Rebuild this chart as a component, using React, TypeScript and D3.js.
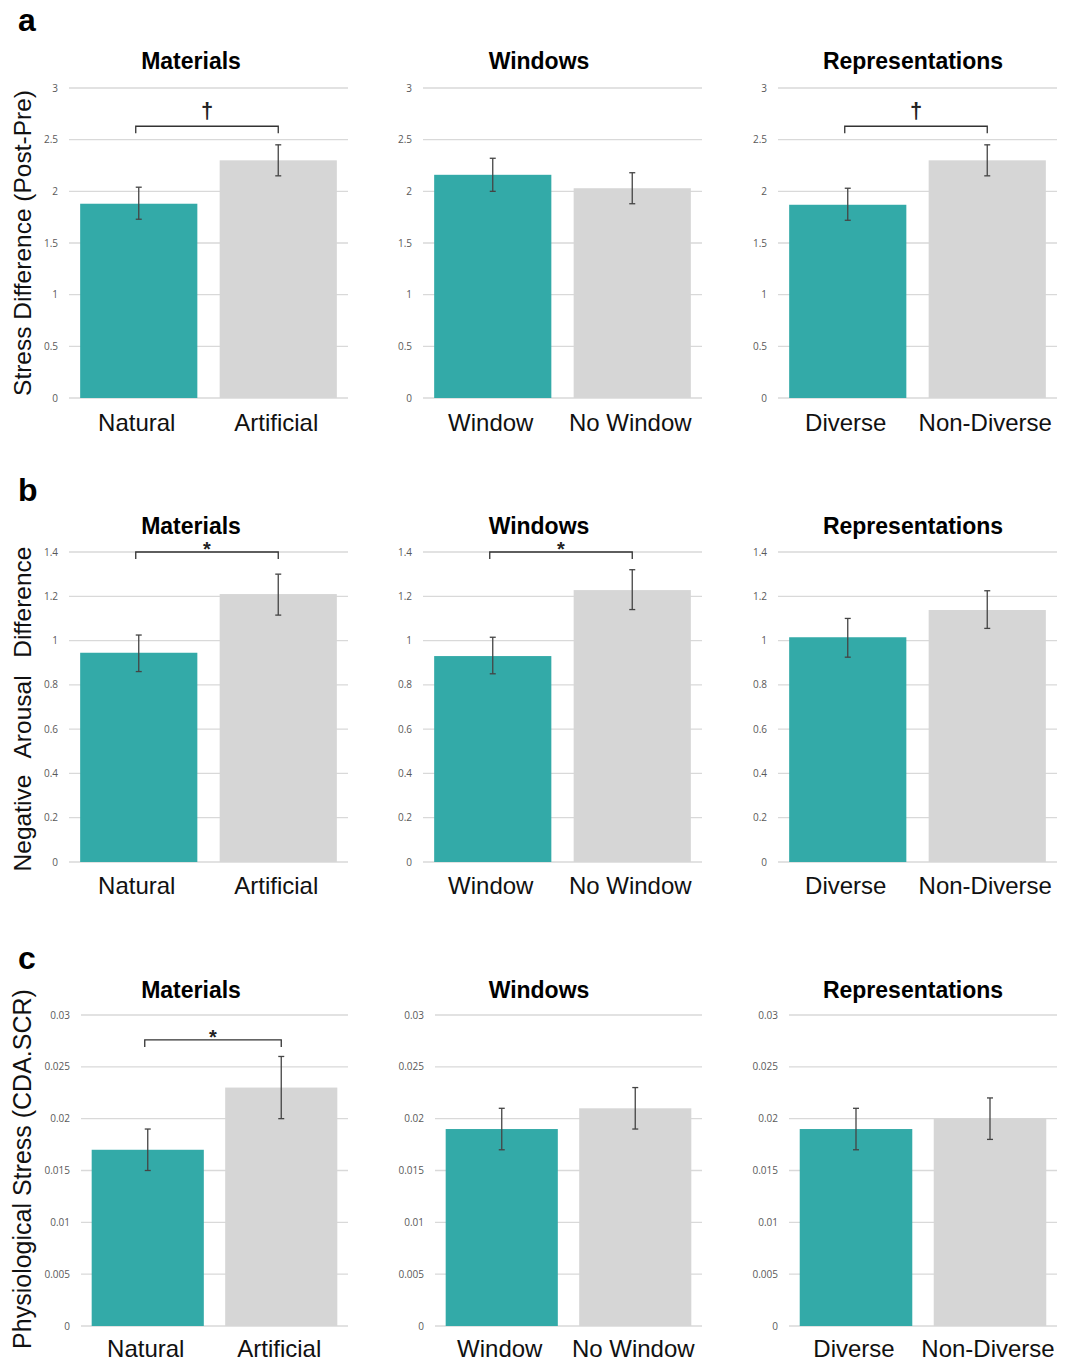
import React from "react";
import * as d3 from "d3";

// Panel groups (columns) and condition names
const groupTitles = ["Materials", "Windows", "Representations"];
const categories = [
  ["Natural", "Artificial"],
  ["Window", "No Window"],
  ["Diverse", "Non-Diverse"],
];

// Row a: stress difference (post-pre)
const stressMeans = [[1.88, 2.3], [2.16, 2.03], [1.87, 2.3]];
const stressLow = [[1.73, 2.15], [2.0, 1.88], [1.72, 2.15]];
const stressHigh = [[2.04, 2.45], [2.32, 2.18], [2.03, 2.45]];
const stressTicks = [0, 0.5, 1, 1.5, 2, 2.5, 3];

// Row b: negative arousal difference
const arousalMeans = [[0.945, 1.21], [0.93, 1.228], [1.015, 1.138]];
const arousalLow = [[0.86, 1.115], [0.85, 1.14], [0.925, 1.055]];
const arousalHigh = [[1.025, 1.3], [1.015, 1.32], [1.1, 1.225]];
const arousalTicks = [0, 0.2, 0.4, 0.6, 0.8, 1, 1.2, 1.4];

// Row c: physiological stress (CDA.SCR)
const scrMeans = [[0.017, 0.023], [0.019, 0.021], [0.019, 0.02]];
const scrLow = [[0.015, 0.02], [0.017, 0.019], [0.017, 0.018]];
const scrHigh = [[0.019, 0.026], [0.021, 0.023], [0.021, 0.022]];
const scrTicks = [0, 0.005, 0.01, 0.015, 0.02, 0.025, 0.03];

// Significance brackets: [group index, value level, symbol]
const stressSig = [[0, 2.63, "†"], [2, 2.63, "†"]];
const arousalSig = [[0, 1.4, "*"], [1, 1.4, "*"]];
const scrSig = [[0, 0.0276, "*"]];

const TEAL = "#33aaa8";
const GREY = "#d6d6d6";
const titleX = [191, 539, 913];

const rows = [
  {
    letter: "a", letterY: 31, ylabel: "Stress Difference (Post-Pre)", labelY: 243, labelSize: 24.5,
    top: 88, bottom: 398, titleY: 69, catY: 431, max: 3,
    means: stressMeans, low: stressLow, high: stressHigh, ticks: stressTicks, sig: stressSig,
    xs: [[69, 348], [423, 702], [778, 1057]],
  },
  {
    letter: "b", letterY: 501, ylabel: "Negative  Arousal  Difference", labelY: 709, labelSize: 24.5,
    top: 552, bottom: 862, titleY: 534, catY: 894, max: 1.4,
    means: arousalMeans, low: arousalLow, high: arousalHigh, ticks: arousalTicks, sig: arousalSig,
    xs: [[69, 348], [423, 702], [778, 1057]],
  },
  {
    letter: "c", letterY: 969, ylabel: "Physiological Stress (CDA.SCR)", labelY: 1169, labelSize: 25,
    top: 1015, bottom: 1326, titleY: 998, catY: 1357, max: 0.03,
    means: scrMeans, low: scrLow, high: scrHigh, ticks: scrTicks, sig: scrSig,
    xs: [[81, 348], [435, 702], [789, 1057]],
  },
];

function Panel({ row, g }: { row: any; g: number }) {
  const [x0, x1] = row.xs[g];
  const x = d3.scaleBand<string>()
    .domain(categories[g])
    .range([x0, x1])
    .paddingInner(0.16)
    .paddingOuter(0.08);
  const y = d3.scaleLinear().domain([0, row.max]).range([row.bottom, row.top]);
  const cx = (c: string) => (x(c) as number) + x.bandwidth() / 2;
  const sig = row.sig.find((s: any) => s[0] === g);

  return (
    <g>
      <text x={titleX[g]} y={row.titleY} textAnchor="middle"
        fontFamily="Liberation Sans, Arial, sans-serif" fontWeight="bold" fontSize={23}>
        {groupTitles[g]}
      </text>
      {row.ticks.map((t: number) => (
        <g key={t}>
          <line x1={x0} x2={x1} y1={y(t)} y2={y(t)} stroke="#d9d9d9" strokeWidth={1.3} />
          <text x={x0 - 11} y={y(t)} dy="0.35em" textAnchor="end"
            fontFamily="Open Sans, DejaVu Sans, sans-serif" fontSize={10} fill="#595959">
            {String(t)}
          </text>
        </g>
      ))}
      {categories[g].map((c, i) => (
        <g key={c}>
          <rect x={x(c)} y={y(row.means[g][i])} width={x.bandwidth()}
            height={row.bottom - y(row.means[g][i])} fill={i === 0 ? TEAL : GREY} />
          <line x1={cx(c)} x2={cx(c)} y1={y(row.low[g][i])} y2={y(row.high[g][i])}
            stroke="#444" strokeWidth={1.3} />
          <line x1={cx(c) - 3} x2={cx(c) + 3} y1={y(row.low[g][i])} y2={y(row.low[g][i])}
            stroke="#444" strokeWidth={1.3} />
          <line x1={cx(c) - 3} x2={cx(c) + 3} y1={y(row.high[g][i])} y2={y(row.high[g][i])}
            stroke="#444" strokeWidth={1.3} />
          <text x={cx(c) - 2} y={row.catY} textAnchor="middle"
            fontFamily="Liberation Sans, Arial, sans-serif" fontSize={24} fill="#111">
            {c}
          </text>
        </g>
      ))}
      {sig && (() => {
        const a = cx(categories[g][0]) - 3;
        const b = cx(categories[g][1]);
        const yy = y(sig[1]);
        const star = sig[2] === "*";
        return (
          <g>
            <path d={`M${a},${yy + 7}V${yy}H${b}V${yy + 7}`} fill="none" stroke="#333" strokeWidth={1.3} />
            <text x={(a + b) / 2} y={star ? yy + 4 : yy - 8} textAnchor="middle"
              fontFamily="Liberation Sans, Arial, sans-serif" fontWeight="bold"
              fontSize={star ? 20 : 22} fill="#222">
              {sig[2]}
            </text>
          </g>
        );
      })()}
    </g>
  );
}

export default function App() {
  return (
    <svg width={1070} height={1362} style={{ display: "block", position: "absolute", left: 0, top: 0 }}
      viewBox="0 0 1070 1362">
      <rect width={1070} height={1362} fill="#fff" />
      {rows.map((row) => (
        <g key={row.letter}>
          <text x={18} y={row.letterY} fontFamily="Liberation Sans, Arial, sans-serif"
            fontWeight="bold" fontSize={32}>{row.letter}</text>
          <text transform={`translate(31,${row.labelY}) rotate(-90)`} textAnchor="middle"
            fontFamily="Liberation Sans, Arial, sans-serif" fontSize={row.labelSize} fill="#111"
            style={{ whiteSpace: "pre", wordSpacing: row.letter === "b" ? 2 : 0 }}>
            {row.ylabel}
          </text>
          {groupTitles.map((_, g) => <Panel key={g} row={row} g={g} />)}
        </g>
      ))}
    </svg>
  );
}
